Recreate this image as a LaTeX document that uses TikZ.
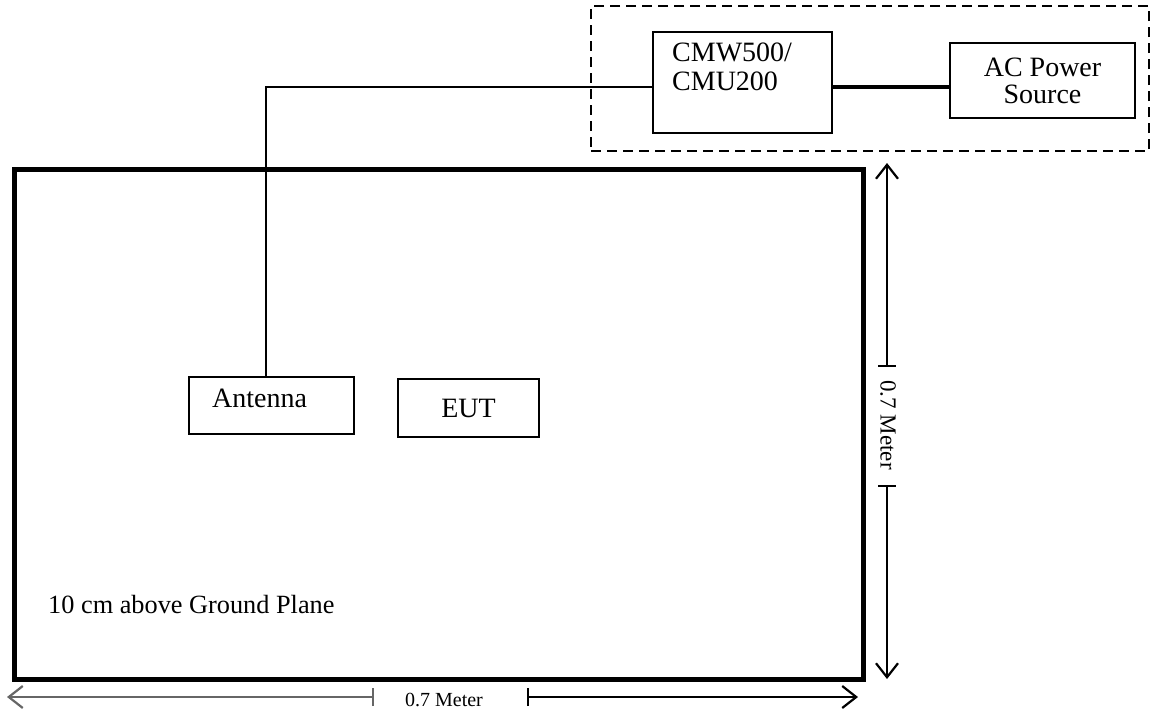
\documentclass[tikz,border=0pt]{standalone}
\usepackage{fontspec}
\setmainfont{Liberation Serif}
\usetikzlibrary{arrows.meta}
\begin{document}
\begin{tikzpicture}[x=1pt,y=-1pt,
  box/.style={draw, line width=2pt, inner sep=0pt, anchor=north west, align=center,
    font=\fontsize{28}{27}\selectfont},
  groupbox/.style={draw, dashed, dash pattern=on 10pt off 6pt, line width=2pt, inner sep=0pt, anchor=north west},
  plane/.style={draw, line width=5pt, inner sep=0pt, anchor=north west},
  lbl/.style={inner sep=0pt, font=\fontsize{28}{29}\selectfont},
  dimlbl/.style={inner sep=0pt, font=\fontsize{20}{22}\selectfont},
  wire/.style={line width=1.7pt},
  powerline/.style={line width=4pt},
  dimline/.style={line width=1.7pt},
  dimarrow/.style={dimline, -{Straight Barb[length=14pt,width=22pt,line width=2.2pt]}}
]
\useasboundingbox (0,0) rectangle (1154,713);

% dashed group around the tester and power source
\node[groupbox, minimum width=558pt, minimum height=145pt] (grp) at (590,5) {};
\node[box, minimum width=179pt, minimum height=101pt] (cmw) at (652,31) {};
\node[lbl, anchor=north west, align=left] (cmwlbl) at (672,43) {CMW500/\\CMU200};
\node[box, minimum width=185pt, minimum height=75pt] (ac) at (949,42) {AC Power\\Source};

% ground plane table
\node[plane, minimum width=849pt, minimum height=510pt] (table) at (12,167) {};
\node[lbl, anchor=base west, font=\fontsize{26.3}{28}\selectfont] (gp) at (48,613) {10 cm above Ground Plane};

% antenna and EUT
\node[box, minimum width=165pt, minimum height=57pt] (ant) at (188,376) {};
\node[lbl, anchor=base west] (antlbl) at (212,407) {Antenna};
\node[box, minimum width=141pt, minimum height=58pt] (eut) at (397,378) {EUT};

% connectors
\coordinate (bend) at (266,87);
\coordinate (pwr) at (0,87);
\draw[wire] (cmw.west |- bend) -- (bend) -- (bend |- ant.north);
\draw[powerline] (cmw.east |- pwr) -- (ac.west |- pwr);

% vertical dimension
\coordinate (vtop) at (887,163);
\coordinate (vt1) at (887,366);
\coordinate (vt2) at (887,486);
\coordinate (vbot) at (887,679);
\draw[dimarrow] (vt1) -- (vtop);
\draw[dimarrow] (vt2) -- (vbot);
\draw[dimline] ([xshift=-9pt]vt1) -- ([xshift=9pt]vt1);
\draw[dimline] ([xshift=-9pt]vt2) -- ([xshift=9pt]vt2);
\node[dimlbl, rotate=-90, font=\fontsize{23}{25}\selectfont] (vlbl) at (888,425) {0.7 Meter};

% horizontal dimension
\coordinate (hl) at (7,697);
\coordinate (ht1) at (373,697);
\coordinate (ht2) at (528,697);
\coordinate (hr) at (858,697);
\begin{scope}[black!60]
\draw[dimarrow] (ht1) -- (hl);
\draw[dimline] ([yshift=-9pt]ht1) -- ([yshift=9pt]ht1);
\end{scope}
\draw[dimarrow] (ht2) -- (hr);
\draw[dimline] ([yshift=-9pt]ht2) -- ([yshift=9pt]ht2);
\node[dimlbl, anchor=base] (hlbl) at (444,706) {0.7 Meter};
\end{tikzpicture}
\end{document}
